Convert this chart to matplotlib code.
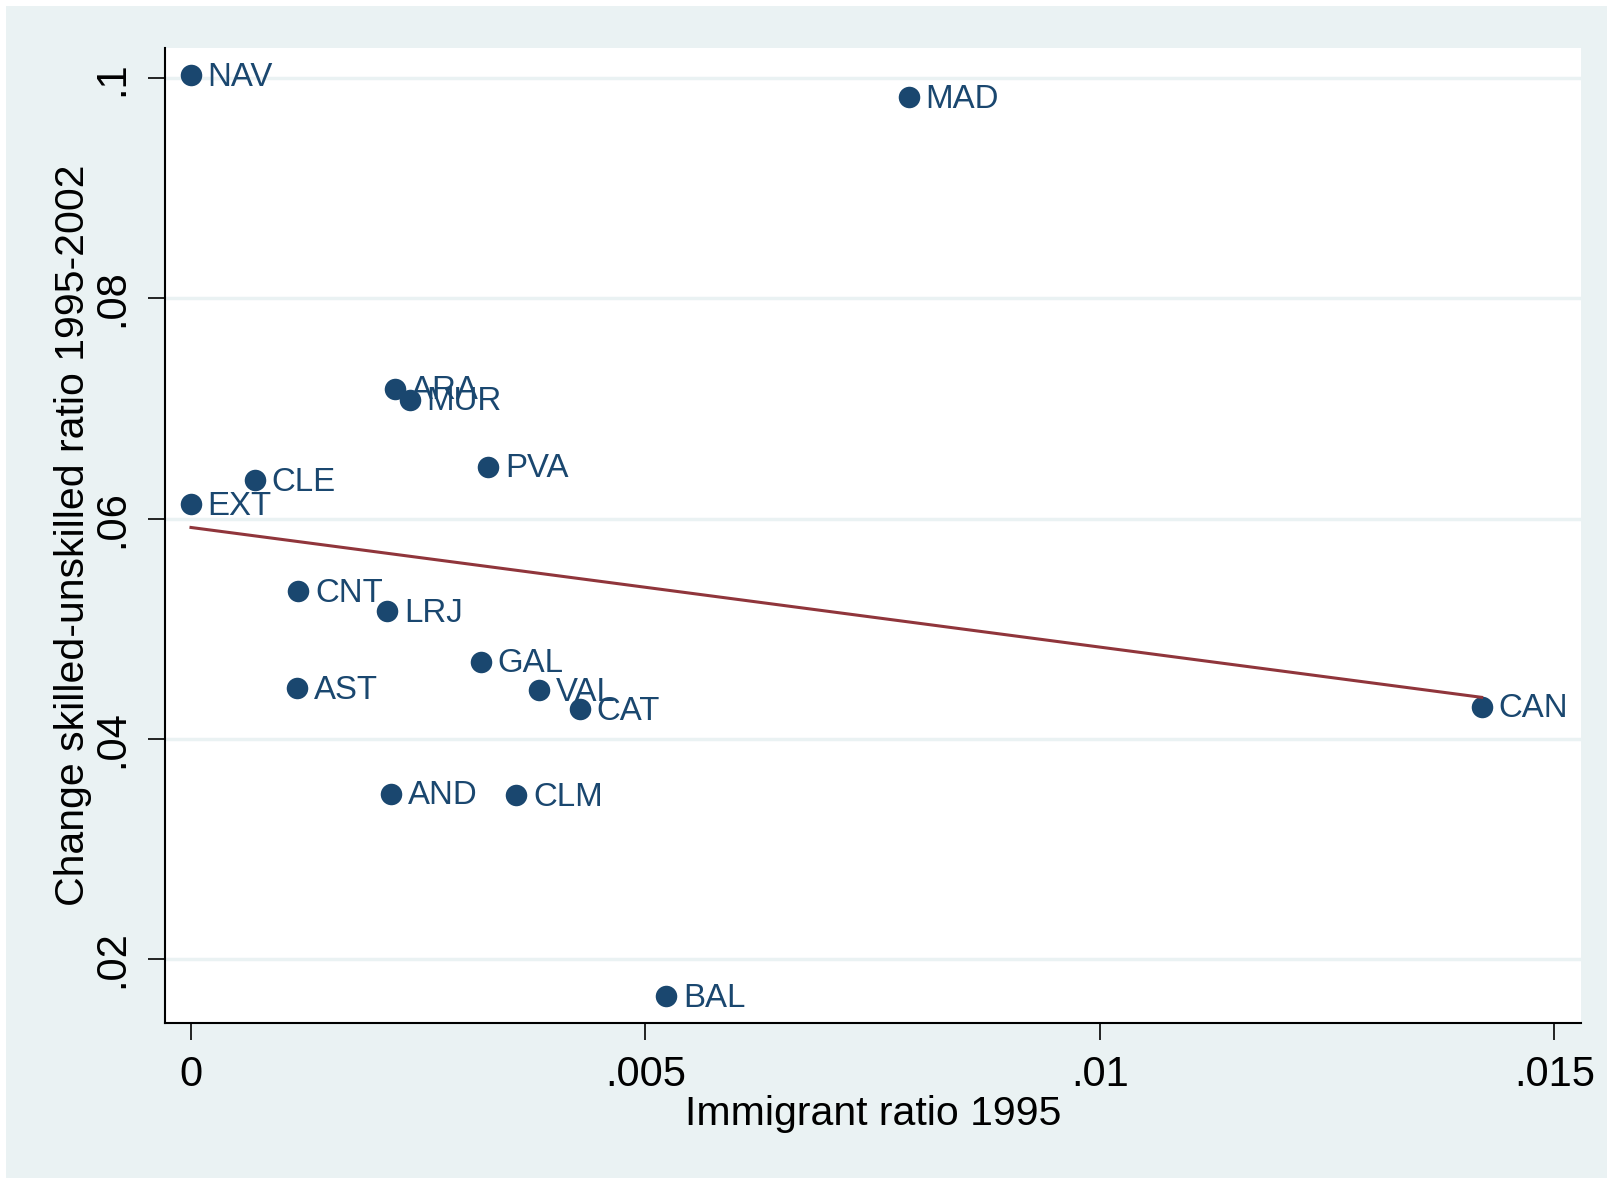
import numpy as np
import matplotlib
matplotlib.use("Agg")
import matplotlib.pyplot as plt
from matplotlib.patches import Rectangle

# region codes and values
regions = ["NAV", "MAD", "ARA", "MUR", "PVA", "CLE", "EXT", "CNT", "LRJ",
           "GAL", "AST", "VAL", "CAT", "AND", "CLM", "BAL", "CAN"]
immig_1995 = [0.0, 0.0079, 0.00224, 0.00241, 0.00327, 0.00070, 0.0, 0.00118, 0.00216,
              0.00319, 0.00117, 0.00383, 0.00428, 0.00220, 0.00358, 0.00523, 0.0142]
skill_change = [0.1003, 0.0983, 0.0718, 0.0708, 0.0647, 0.0635, 0.0613, 0.0534, 0.0516,
                0.0470, 0.0446, 0.0444, 0.0427, 0.0350, 0.0349, 0.0166, 0.0429]

x_ticks = [0, 0.005, 0.01, 0.015]
x_tick_labels = ["0", ".005", ".01", ".015"]
y_ticks = [0.02, 0.04, 0.06, 0.08, 0.1]
y_tick_labels = [".02", ".04", ".06", ".08", ".1"]

navy = "#1A476F"
maroon = "#90353B"
bg = "#EAF2F3"

plt.rcParams["font.family"] = ["Liberation Sans", "DejaVu Sans"]

fig = plt.figure(figsize=(16.07, 11.78), dpi=100, facecolor="white")
fig.patches.append(Rectangle((6 / 1607, 0), 1, 1 - 6 / 1178, transform=fig.transFigure,
                             facecolor=bg, edgecolor="none", zorder=-10))
ax = fig.add_axes([165 / 1607, 1 - 1022.7 / 1178, 1415.7 / 1607, 974.7 / 1178])
ax.set_facecolor("white")

ax.set_xlim(-0.000286, 0.01529)
ax.set_ylim(0.01421, 0.10275)

for yt in y_ticks:
    ax.axhline(yt, color=bg, lw=2.5, zorder=1)

x = np.array(immig_1995)
y = np.array(skill_change)
ax.scatter(x, y, s=15.5 ** 2, color=navy, zorder=3, linewidths=0)

# linear fit line
b, a = np.polyfit(x, y, 1)
xf = np.array([x.min(), x.max()])
ax.plot(xf, a + b * xf, color=maroon, lw=2.2, zorder=4)

for name, xi, yi in zip(regions, immig_1995, skill_change):
    ax.annotate(name, (xi, yi), xytext=(12, -1.5), textcoords="offset points",
                va="center", ha="left", fontsize=23.8, color=navy, zorder=5)

for side in ["top", "right"]:
    ax.spines[side].set_visible(False)
for side in ["left", "bottom"]:
    ax.spines[side].set_linewidth(1.5)
    ax.spines[side].set_color("black")

ax.set_xticks(x_ticks)
ax.set_xticklabels(x_tick_labels)
ax.set_yticks(y_ticks)
ax.set_yticklabels(y_tick_labels, rotation=90, va="center")
ax.tick_params(axis="both", direction="out", length=12.5, width=1.2, labelsize=30)
ax.tick_params(axis="x", pad=11)
ax.tick_params(axis="y", pad=11)

ax.set_xlabel("Immigrant ratio 1995", fontsize=29.5, labelpad=0)
ax.set_ylabel("Change skilled-unskilled ratio 1995-2002", fontsize=29.5, labelpad=0)

fig.savefig("out.png", dpi=100, facecolor=fig.get_facecolor())
